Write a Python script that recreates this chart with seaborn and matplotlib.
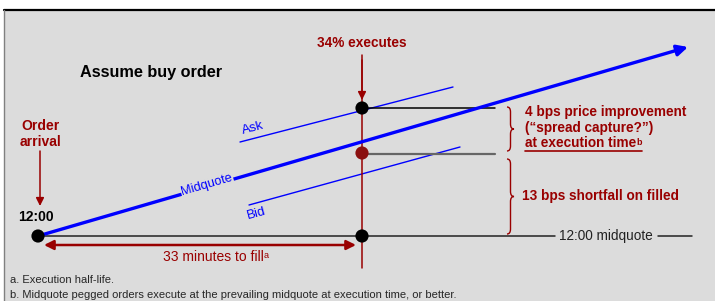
import numpy as np
import pandas as pd
import matplotlib
matplotlib.use("Agg")
import matplotlib.pyplot as plt
from matplotlib.patches import Rectangle, PathPatch
from matplotlib.path import Path
import seaborn as sns

# schematic layout units (panel is 715 x 301, y grows downward)
arrival_x, exec_x = 38, 362
base_y = 236                       # 12:00 midquote level
ask_y, fill_y = 108, 153           # ask at execution, actual fill
mid_line = [(38, 236), (688, 47)]  # midquote drift
ask_line = [(240, 142), (453, 87)]
bid_line = [(249, 205), (460, 147)]
fill_minutes = 33
improve_bps = 4
shortfall_bps = 13
pct_exec = 34

RED = "#990000"
BLUE = "#0000ff"

sns.set_theme(style="white")
plt.rcParams["font.family"] = ["Liberation Sans", "DejaVu Sans"]
narrow = ["Liberation Sans Narrow", "Liberation Sans"]

fig = plt.figure(figsize=(7.15, 3.01), dpi=100)
ax = fig.add_axes([0, 0, 1, 1])
ax.set_xlim(0, 715)
ax.set_ylim(301, 0)
ax.axis("off")

# panel
ax.add_patch(Rectangle((4, 10), 712, 292, facecolor="#dcdcdc", edgecolor="none", zorder=0))
ax.plot([4, 715], [10, 10], color="black", lw=1.6, zorder=1)
ax.plot([4, 4], [10, 301], color="#808080", lw=1, zorder=1)

# ask / bid quote lines
for pts in (ask_line, bid_line):
    d = pd.DataFrame(pts, columns=["x", "y"])
    sns.lineplot(data=d, x="x", y="y", ax=ax, color=BLUE, lw=1, zorder=2)

# midquote with arrow head
ax.annotate("", xy=mid_line[1], xytext=mid_line[0],
            arrowprops=dict(arrowstyle="-|>", color=BLUE, lw=2.4, mutation_scale=16,
                            shrinkA=0, shrinkB=0), zorder=3)
slope_deg = np.degrees(np.arctan2(mid_line[0][1] - mid_line[1][1], mid_line[1][0] - mid_line[0][0]))
mx = 207
my = mid_line[0][1] + (mx - mid_line[0][0]) * (mid_line[1][1] - mid_line[0][1]) / (mid_line[1][0] - mid_line[0][0])
ax.text(mx, my - 2, "Midquote", color=BLUE, fontsize=9.3, rotation=slope_deg, rotation_mode="anchor",
        ha="center", va="center", zorder=4,
        bbox=dict(facecolor="#dcdcdc", edgecolor="none", pad=0.5))
ax.text(244, 137, "Ask", color=BLUE, fontsize=9.5, rotation=15, rotation_mode="anchor",
        ha="left", va="bottom", zorder=4)
ax.text(249, 222, "Bid", color=BLUE, fontsize=9.5, rotation=15, rotation_mode="anchor",
        ha="left", va="bottom", zorder=4)

# 12:00 midquote reference line
ax.plot([arrival_x, 555], [base_y, base_y], color="#222222", lw=1.1, zorder=2)
ax.plot([658, 692], [base_y, base_y], color="#222222", lw=1.1, zorder=2)
ax.text(606, base_y, "12:00 midquote", fontsize=9.8, family=narrow,
        ha="center", va="center", color="#222222")

# execution price levels
ax.plot([exec_x, 495], [ask_y, ask_y], color="black", lw=1.1, zorder=2)
ax.plot([exec_x, 495], [fill_y + 1, fill_y + 1], color="#666666", lw=1.6, zorder=2)

# vertical execution line and arrows
ax.plot([exec_x, exec_x], [60, 268], color=RED, lw=1.1, zorder=2)
ax.annotate("", xy=(exec_x, 100), xytext=(exec_x, 55),
            arrowprops=dict(arrowstyle="-|>", color=RED, lw=1.1, mutation_scale=12, shrinkA=0, shrinkB=0))
ax.annotate("", xy=(arrival_x + 2, 206), xytext=(arrival_x + 2, 151),
            arrowprops=dict(arrowstyle="-|>", color=RED, lw=1.1, mutation_scale=12, shrinkA=0, shrinkB=0))
ax.annotate("", xy=(356, 245), xytext=(44, 245),
            arrowprops=dict(arrowstyle="<|-|>", color=RED, lw=1.8, mutation_scale=14, shrinkA=0, shrinkB=0))

# dots
dots = pd.DataFrame({"x": [arrival_x, exec_x, exec_x, exec_x],
                     "y": [base_y, base_y, ask_y, fill_y],
                     "kind": ["k", "k", "k", "r"]})
sns.scatterplot(data=dots, x="x", y="y", hue="kind", palette={"k": "black", "r": "#8b1010"},
                s=90, edgecolor="none", legend=False, ax=ax, zorder=5)


def brace(x0, y0, y1, w=7):
    ym = (y0 + y1) / 2
    r = 5
    xm = x0 + w / 2
    verts = [(x0, y0), (xm, y0), (xm, y0 + r), (xm, y0 + r),
             (xm, ym - r), (xm, ym), (x0 + w, ym), (xm, ym), (xm, ym + r),
             (xm, ym + r), (xm, y1 - r), (xm, y1), (x0, y1)]
    codes = [Path.MOVETO, Path.CURVE3, Path.CURVE3, Path.LINETO,
             Path.LINETO, Path.CURVE3, Path.CURVE3, Path.CURVE3, Path.CURVE3,
             Path.LINETO, Path.LINETO, Path.CURVE3, Path.CURVE3]
    ax.add_patch(PathPatch(Path(verts, codes), facecolor="none", edgecolor=RED, lw=1))


brace(507, 107, 151)
brace(507, 159, 234)

# labels
bold = dict(fontweight="bold", color=RED)
ax.text(exec_x, 43, f"{pct_exec}% executes", fontsize=9.8, ha="center", va="center", **bold)
ax.text(80, 73, "Assume buy order", fontsize=11.7, ha="left", va="center", fontweight="bold", color="black")
ax.text(40, 126, "Order", fontsize=10, ha="center", va="center", **bold)
ax.text(40, 142, "arrival", fontsize=10, ha="center", va="center", **bold)
ax.text(36, 217, "12:00", fontsize=10, ha="center", va="center", fontweight="bold", color="black")

ax.text(525, 112, f"{improve_bps} bps price improvement", fontsize=9.8, ha="left", va="center", **bold)
ax.text(525, 128, "(\u201cspread capture?\u201d)", fontsize=9.8, ha="left", va="center", **bold)
t = ax.text(525, 143, "at execution time", fontsize=9.8, ha="left", va="center", **bold)
sup = ax.annotate("b", xy=(1, 0.85), xycoords=t, fontsize=6.5, va="top", ha="left", **bold)
ax.text(522, 196, f"{shortfall_bps} bps shortfall on filled", fontsize=9.8, ha="left", va="center", **bold)

t2 = ax.text(213, 257, f"{fill_minutes} minutes to fill", fontsize=10, ha="center", va="center",
             color=RED, family=narrow)
ax.annotate("a", xy=(1, 0.95), xycoords=t2, fontsize=6.5, va="top", ha="left", color=RED, family=narrow)

ax.text(10, 280, "a. Execution half-life.", fontsize=8, ha="left", va="center", family=narrow)
ax.text(10, 295, "b. Midquote pegged orders execute at the prevailing midquote at execution time, or better.",
        fontsize=8, ha="left", va="center", family=narrow)

# underline under "at execution time" including the superscript
fig.canvas.draw()
r = fig.canvas.get_renderer()
inv = ax.transData.inverted()
x_end = inv.transform((sup.get_window_extent(r).x1, 0))[0]
ax.plot([525, x_end], [150.5, 150.5], color=RED, lw=1.2)

fig.savefig("out.png", dpi=100)
